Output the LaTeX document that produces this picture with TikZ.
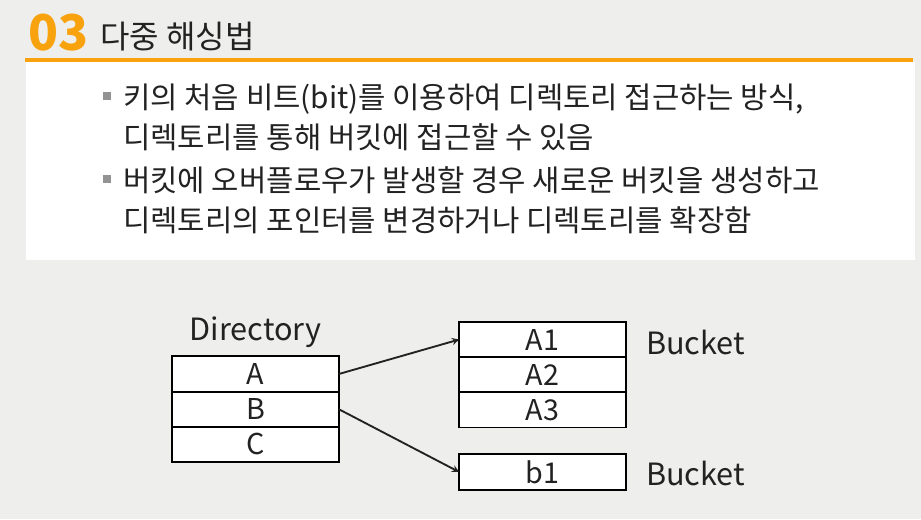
\documentclass[tikz,border=0pt]{standalone}
\usepackage{fontspec}
\setmainfont{Noto Sans CJK KR}
\usetikzlibrary{positioning}
\definecolor{slidebg}{HTML}{EEEEEC}
\definecolor{accent}{HTML}{F8A20E}
\definecolor{ink}{HTML}{222222}
\begin{document}
\begin{tikzpicture}[x=0.75pt, y=-0.75pt,
			cell/.style={draw, fill=white, line width=1.4pt, outer sep=0pt, inner sep=0pt, minimum width=125pt, minimum height=26.4pt, font=\fontsize{21.5}{24}\selectfont, text=ink},
			marker/.style={fill=gray!85, minimum size=5.5pt, inner sep=0pt},
			body/.style={anchor=base west, inner sep=0pt, font=\fontsize{22.3}{26}\selectfont, text=ink},
			tag/.style={inner sep=0pt, font=\fontsize{23}{27}\selectfont, text=ink}]
			% slide background
			\fill[slidebg] (0,0) rectangle (921,519);
			\useasboundingbox (0,0) rectangle (921,519);
			\fill[white] (26,62) rectangle (915,260);
			\draw[accent, line width=3pt] (25,60) -- (913,60);
			
			\node[anchor=base west, inner sep=0pt, text=accent, font=\fontsize{37}{42}\selectfont\bfseries] (num) at (28,50) {03};
			\node[anchor=base west, inner sep=0pt, text=ink, font=\fontsize{24}{28}\selectfont] (title) at (100,48) {다중 해싱법};
			
			\node[marker] (mark1) at (107,96) {};
			\node[body] (line1) at (123,108) {키의 처음 비트(bit)를 이용하여 디렉토리 접근하는 방식,};
			\node[body] (line2) at (123,148) {디렉토리를 통해 버킷에 접근할 수 있음};
			\node[marker] (mark2) at (107,179) {};
			\node[body] (line3) at (123,191) {버킷에 오버플로우가 발생할 경우 새로운 버킷을 생성하고};
			\node[body] (line4) at (123,231) {디렉토리의 포인터를 변경하거나 디렉토리를 확장함};
			
			% directory
			\node[cell] (dirA) at (255.5,374) {A};
			\node[cell, below=0pt of dirA] (dirB) {B};
			\node[cell, below=0pt of dirB] (dirC) {C};
			\node[tag, above=6pt of dirA] (dirname) {Directory};
			
			% buckets
			\node[cell] (bktA1) at (542.5,339.5) {A1};
			\node[cell, below=0pt of bktA1] (bktA2) {A2};
			\node[cell, below=0pt of bktA2] (bktA3) {A3};
			\node[cell] (bktB1) at (542.5,472) {b1};
			\node[tag, anchor=west, right=15pt of bktA1, yshift=-2pt] (bktname1) {Bucket};
			\node[tag, anchor=west, right=15pt of bktB1, yshift=-1pt] (bktname2) {Bucket};
			
			\draw[->,>=stealth, line width=1.4pt, ink] (dirA.east) -- (bktA1.west);
			\draw[->,>=stealth, line width=1.4pt, ink] (dirB.east) -- (bktB1.west);
		\end{tikzpicture}
\end{document}
